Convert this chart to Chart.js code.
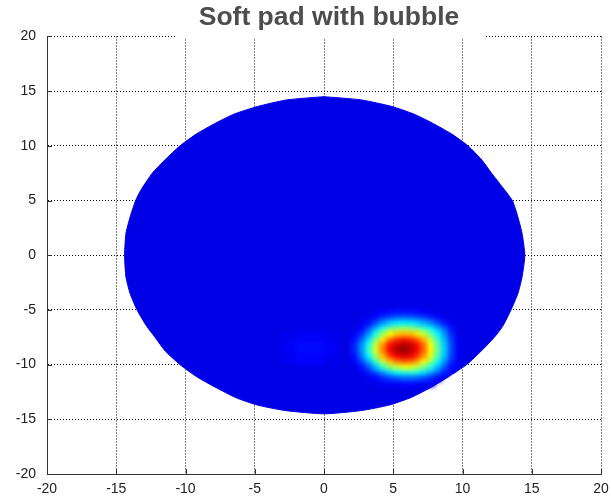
<!DOCTYPE html>
<html lang="en">
<head>
<meta charset="UTF-8">
<title>Soft pad with bubble</title>
<script src="https://cdn.jsdelivr.net/npm/chart.js"></script>
<style>
  body { margin: 0; background: #fff; }
  .wrap { width: 611px; height: 499px; }
</style>
</head>
<body>
<div class="wrap"><canvas id="pad" width="611" height="499"></canvas></div>
<script>
const titleText = 'Soft pad with bubble';
const xTicks = [-20, -15, -10, -5, 0, 5, 10, 15, 20];
const yTicks = [-20, -15, -10, -5, 0, 5, 10, 15, 20];

// pad outline (clockwise from the top)
const outlineX = [0, 2.7, 4.9, 6.5, 7.8, 9.2, 10.4, 11.4, 12.1, 12.9, 13.6, 14.0, 14.3, 14.5, 14.3, 14.0, 13.5, 12.9, 12.3, 11.4, 10.3, 9.0, 7.7, 6.3, 4.7, 2.7, 0,
                  -2.8, -4.8, -6.4, -7.8, -9.2, -10.4, -11.5, -12.2, -12.8, -13.5, -14.0, -14.3, -14.4, -14.3, -14.0, -13.6, -13.2, -12.4, -11.5, -10.4, -9.2, -7.8, -6.5, -4.8, -2.7, 0];
const outlineY = [14.5, 14.2, 13.6, 12.9, 12.1, 11.1, 10, 8.7, 7.5, 6.2, 5, 3.5, 2, 0, -2, -3.5, -5, -6.5, -7.5, -8.7, -10, -11.1, -12.1, -13, -13.7, -14.2, -14.5,
                  -14.2, -13.7, -13, -12.1, -11.1, -10, -8.7, -7.5, -6.5, -5, -3.5, -2, 0, 2, 3.5, 5, 6, 7.5, 8.7, 10, 11.1, 12.1, 12.9, 13.6, 14.2, 14.5];
const baseLevel = 0.1;

// bubble region, cells of 0.5 x 0.5 (level 0..1 on the jet scale)
const hotX = [2.25, 2.75, 3.25, 3.75, 4.25, 4.75, 5.25, 5.75, 6.25, 6.75, 7.25, 7.75, 8.25, 8.75, 9.25, 9.75];
const hotY = [-5.25, -5.75, -6.25, -6.75, -7.25, -7.75, -8.25, -8.75, -9.25, -9.75, -10.25, -10.75, -11.25, -11.75];
const hotValues = [
  [0.1, 0.1, 0.1, 0.11, 0.12, 0.13, 0.14, 0.14, 0.14, 0.13, 0.12, 0.11, 0.1, 0.1, 0.1, 0.1],
  [0.1, 0.1, 0.11, 0.13, 0.17, 0.2, 0.22, 0.23, 0.22, 0.21, 0.19, 0.16, 0.13, 0.11, 0.1, 0.1],
  [0.1, 0.11, 0.14, 0.2, 0.27, 0.32, 0.35, 0.36, 0.35, 0.33, 0.3, 0.26, 0.2, 0.15, 0.11, 0.1],
  [0.1, 0.13, 0.2, 0.3, 0.4, 0.48, 0.52, 0.54, 0.52, 0.49, 0.44, 0.38, 0.3, 0.22, 0.14, 0.1],
  [0.12, 0.17, 0.27, 0.4, 0.53, 0.63, 0.68, 0.7, 0.69, 0.65, 0.58, 0.48, 0.37, 0.27, 0.16, 0.1],
  [0.14, 0.22, 0.34, 0.5, 0.64, 0.76, 0.83, 0.86, 0.84, 0.79, 0.7, 0.57, 0.43, 0.3, 0.18, 0.11],
  [0.16, 0.26, 0.4, 0.57, 0.73, 0.86, 0.92, 0.95, 0.93, 0.87, 0.77, 0.62, 0.46, 0.32, 0.19, 0.11],
  [0.16, 0.27, 0.42, 0.59, 0.75, 0.88, 0.96, 0.98, 0.95, 0.88, 0.78, 0.64, 0.48, 0.33, 0.19, 0.11],
  [0.14, 0.24, 0.37, 0.53, 0.69, 0.81, 0.88, 0.91, 0.89, 0.83, 0.73, 0.6, 0.45, 0.31, 0.18, 0.11],
  [0.12, 0.19, 0.29, 0.43, 0.57, 0.68, 0.75, 0.78, 0.77, 0.72, 0.63, 0.52, 0.39, 0.27, 0.16, 0.1],
  [0.1, 0.14, 0.21, 0.31, 0.42, 0.51, 0.57, 0.6, 0.6, 0.56, 0.5, 0.41, 0.31, 0.21, 0.13, null],
  [0.1, 0.11, 0.15, 0.2, 0.27, 0.33, 0.38, 0.4, 0.41, 0.39, 0.35, 0.29, 0.22, 0.15, null, null],
  [0.1, 0.1, 0.11, 0.13, 0.16, 0.19, 0.21, 0.23, 0.23, 0.22, 0.2, 0.17, 0.13, null, null, null],
  [0.1, 0.1, 0.1, 0.1, 0.11, 0.12, 0.12, 0.13, 0.13, 0.12, 0.12, 0.11, null, null, null, null]
];

// faint lighter patch left of the bubble, cells of 1 x 1
const patchX = [-2.5, -1.5, -0.5, 0.5];
const patchY = [-7.5, -8.5, -9.5];
const patchValues = [
  [0.11, 0.12, 0.12, 0.11],
  [0.12, 0.135, 0.135, 0.12],
  [0.11, 0.125, 0.125, 0.11]
];

// matlab "jet" colour map
function jet(v) {
  const c = t => Math.round(255 * Math.min(1, Math.max(0, t)));
  return 'rgb(' + c(1.5 - Math.abs(4 * v - 3)) + ',' + c(1.5 - Math.abs(4 * v - 2)) + ',' + c(1.5 - Math.abs(4 * v - 1)) + ')';
}

function drawCells(ctx, xs, ys, cols, rows, vals, half) {
  rows.forEach((yv, i) => {
    cols.forEach((xv, j) => {
      const v = vals[i][j];
      if (v === null) return;
      const x0 = xs.getPixelForValue(xv - half), x1 = xs.getPixelForValue(xv + half);
      const y0 = ys.getPixelForValue(yv + half), y1 = ys.getPixelForValue(yv - half);
      ctx.fillStyle = jet(v);
      ctx.fillRect(Math.floor(x0), Math.floor(y0), Math.ceil(x1) - Math.floor(x0), Math.ceil(y1) - Math.floor(y0));
    });
  });
}

const heatLayer = {
  id: 'heatLayer',
  afterDatasetsDraw(chart) {
    const {ctx, scales: {x, y}} = chart;
    const off = document.createElement('canvas');
    off.width = chart.width;
    off.height = chart.height;
    const octx = off.getContext('2d');
    drawCells(octx, x, y, patchX, patchY, patchValues, 0.5);
    drawCells(octx, x, y, hotX, hotY, hotValues, 0.25);
    ctx.save();
    ctx.filter = 'blur(2px)';
    ctx.drawImage(off, 0, 0);
    ctx.restore();
  }
};

// short tick marks pointing into the plot, like matlab
const innerTicks = {
  id: 'innerTicks',
  afterDraw(chart) {
    const {ctx, chartArea, scales: {x, y}} = chart;
    ctx.save();
    ctx.strokeStyle = '#333';
    ctx.lineWidth = 1;
    ctx.beginPath();
    xTicks.forEach(v => {
      const px = Math.round(x.getPixelForValue(v)) + 0.5;
      ctx.moveTo(px, chartArea.bottom);
      ctx.lineTo(px, chartArea.bottom - 5);
    });
    yTicks.forEach(v => {
      const py = Math.round(y.getPixelForValue(v)) + 0.5;
      ctx.moveTo(chartArea.left, py);
      ctx.lineTo(chartArea.left + 5, py);
    });
    ctx.stroke();
    ctx.restore();
  }
};

// white box behind the title, which sits over the top grid line
const titleGap = {
  id: 'titleGap',
  afterDraw(chart) {
    const t = chart.titleBlock;
    if (!t) return;
    const ctx = chart.ctx;
    ctx.save();
    ctx.font = Chart.helpers.toFont(t.options.font).string;
    const w = ctx.measureText(titleText).width;
    const cx = (t.left + t.right) / 2 + 5;
    ctx.fillStyle = '#fff';
    ctx.fillRect(cx - w / 2 - 22, t.top, w + 48, t.bottom - t.top + 2);
    ctx.translate(5, 0);
    t.draw();
    ctx.restore();
  }
};

const axisFont = {family: 'Arial, "Liberation Sans", sans-serif', size: 14};

new Chart(document.getElementById('pad'), {
  type: 'scatter',
  data: {
    datasets: [{
      data: outlineX.map((x, i) => ({x: x, y: outlineY[i]})),
      showLine: true,
      fill: 'shape',
      backgroundColor: jet(baseLevel),
      borderColor: jet(baseLevel),
      borderWidth: 1,
      pointRadius: 0,
      tension: 0.2
    }]
  },
  options: {
    responsive: false,
    animation: false,
    layout: {padding: {left: 0, right: 10, top: 0, bottom: 0}},
    plugins: {
      legend: {display: false},
      tooltip: {enabled: false},
      title: {
        display: true,
        text: titleText,
        fullSize: false,
        color: '#4d4d4d',
        font: {family: 'Arial, "Liberation Sans", sans-serif', size: 26.5, weight: 'bold', lineHeight: 1.15},
        padding: {top: 2, bottom: 4}
      }
    },
    scales: {
      x: {
        type: 'linear',
        min: -20,
        max: 20,
        afterBuildTicks: s => { s.ticks = xTicks.map(v => ({value: v})); },
        afterFit: s => { s.height = 25; s.paddingLeft = 0; s.paddingRight = 0; },
        grid: {color: '#000', lineWidth: 1, drawTicks: false},
        border: {display: true, color: '#333', width: 1, dash: [1, 2]},
        ticks: {color: '#222', font: axisFont, padding: 7, autoSkip: false, maxRotation: 0}
      },
      y: {
        type: 'linear',
        min: -20,
        max: 20,
        afterBuildTicks: s => { s.ticks = yTicks.map(v => ({value: v})); },
        afterFit: s => { s.width = 47; s.paddingTop = 0; s.paddingBottom = 0; },
        grid: {color: '#000', lineWidth: 1, drawTicks: false},
        border: {display: true, color: '#333', width: 1, dash: [1, 2]},
        ticks: {color: '#222', font: axisFont, padding: 11, autoSkip: false}
      }
    }
  },
  plugins: [heatLayer, innerTicks, titleGap]
});
</script>
</body>
</html>
